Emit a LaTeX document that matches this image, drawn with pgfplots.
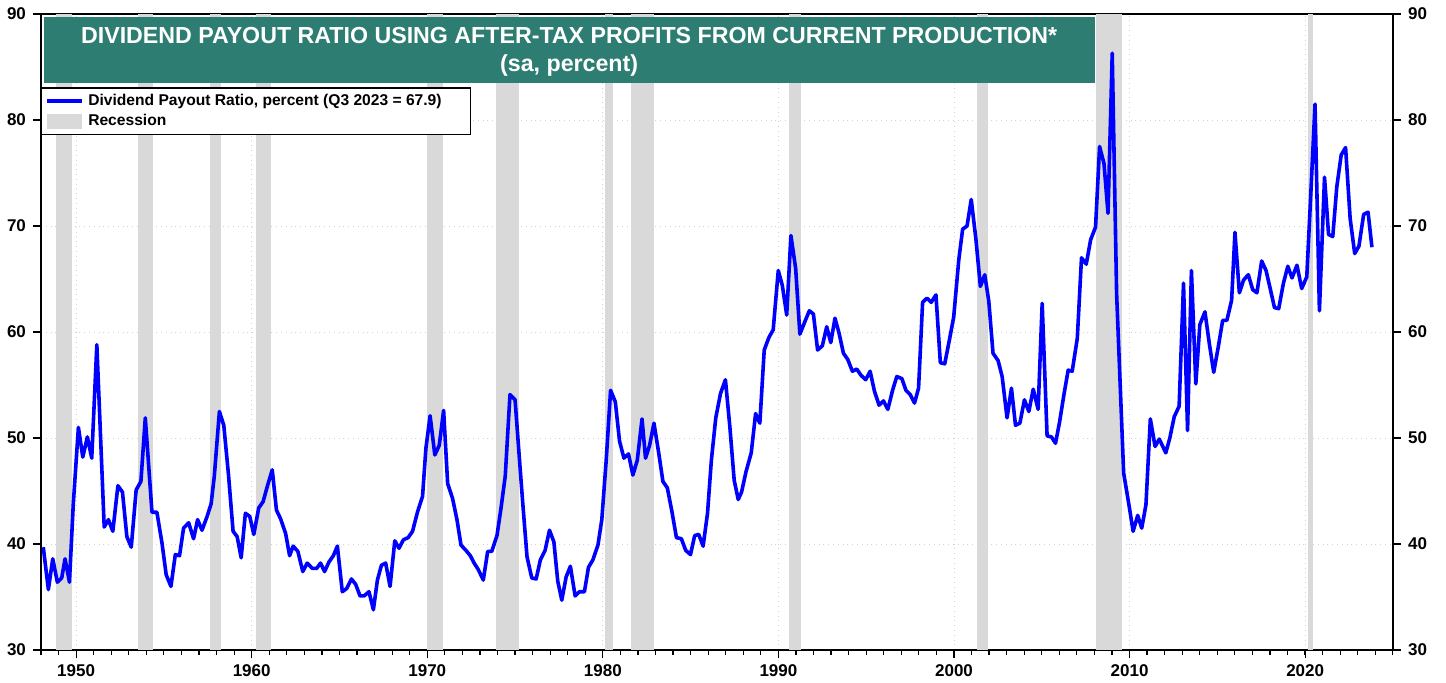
\documentclass[border=0pt]{standalone}
\usepackage{pgfplots}
\pgfplotsset{compat=1.18}
\usepackage{fontspec}
\setmainfont{Liberation Sans}
\definecolor{recgray}{RGB}{217,217,217}
\definecolor{titlegreen}{RGB}{46,125,114}
\definecolor{lineblue}{RGB}{0,0,255}

\pgfplotsset{
  common/.style={
    scale only axis, width=676pt, height=318pt,
    xmin=1948, xmax=2025, ymin=30, ymax=90,
    ytick={30,40,...,90},
    axis line style={line width=1.2pt},
    tick style={black, line width=0.6pt},
    tick align=outside,
    major tick length=4pt, minor tick length=2.5pt,
    ticklabel style={font=\bfseries\fontsize{8.5}{10}\selectfont},
    /pgf/number format/assume math mode=true,
    /pgf/number format/1000 sep={},
  }
}

\begin{document}
\begin{tikzpicture}
\begin{axis}[
  common,
  xtick={1950,1960,...,2020},
  minor xtick={1948,...,2025},
  ytick pos=left, xtick pos=bottom,
  grid=major, major grid style={gray!35, dotted, line width=0.5pt},
  legend style={at={(0,0.885)}, anchor=north west, draw=black, line width=0.7pt,
    font=\bfseries\fontsize{7.8}{10}\selectfont, inner xsep=2pt, inner ysep=1pt,
    row sep=-1pt, cells={anchor=west}},
  legend cell align=left,
  reverse legend,
]
% recessions
\addplot[fill=recgray, draw=none, area legend,
  legend image code/.code={\fill[recgray] (0pt,-3.7pt) rectangle (17.5pt,3.7pt);}]
  coordinates {(1948.86,30) (1948.86,90) (1949.75,90) (1949.75,30)} -- cycle;
\addlegendentry{Recession}
\addplot[fill=recgray, draw=none, forget plot] coordinates {(1953.55,30) (1953.55,90) (1954.37,90) (1954.37,30)} -- cycle;
\addplot[fill=recgray, draw=none, forget plot] coordinates {(1957.65,30) (1957.65,90) (1958.27,90) (1958.27,30)} -- cycle;
\addplot[fill=recgray, draw=none, forget plot] coordinates {(1960.27,30) (1960.27,90) (1961.11,90) (1961.11,30)} -- cycle;
\addplot[fill=recgray, draw=none, forget plot] coordinates {(1969.97,30) (1969.97,90) (1970.87,90) (1970.87,30)} -- cycle;
\addplot[fill=recgray, draw=none, forget plot] coordinates {(1973.91,30) (1973.91,90) (1975.21,90) (1975.21,30)} -- cycle;
\addplot[fill=recgray, draw=none, forget plot] coordinates {(1980.10,30) (1980.10,90) (1980.57,90) (1980.57,30)} -- cycle;
\addplot[fill=recgray, draw=none, forget plot] coordinates {(1981.62,30) (1981.62,90) (1982.91,90) (1982.91,30)} -- cycle;
\addplot[fill=recgray, draw=none, forget plot] coordinates {(1990.60,30) (1990.60,90) (1991.28,90) (1991.28,30)} -- cycle;
\addplot[fill=recgray, draw=none, forget plot] coordinates {(2001.31,30) (2001.31,90) (2001.94,90) (2001.94,30)} -- cycle;
\addplot[fill=recgray, draw=none, forget plot] coordinates {(2008.06,30) (2008.06,90) (2009.58,90) (2009.58,30)} -- cycle;
\addplot[fill=recgray, draw=none, forget plot] coordinates {(2020.18,30) (2020.18,90) (2020.43,90) (2020.43,30)} -- cycle;

% title box
\fill[titlegreen] (axis cs:1948.17,89.7) rectangle (axis cs:2008.0,83.5);
\node[white, font=\bfseries\fontsize{11.6}{13}\selectfont] at (axis cs:1978.08,88.0)
  {DIVIDEND PAYOUT RATIO USING AFTER-TAX PROFITS FROM CURRENT PRODUCTION*};
\node[white, font=\bfseries\fontsize{11.6}{13}\selectfont] at (axis cs:1978.08,85.1)
  {(sa, percent)};

\addplot[lineblue, line width=1.8pt, line join=round,
  legend image code/.code={\draw[lineblue, line width=1.8pt] (0pt,0pt) -- (17.5pt,0pt);}]
  table {
1948.13 39.7
1948.42 35.7
1948.67 38.6
1948.93 36.4
1949.18 36.8
1949.37 38.6
1949.62 36.4
1949.84 43.8
1950.13 51.0
1950.38 48.2
1950.64 50.1
1950.89 48.1
1951.18 58.8
1951.60 41.6
1951.84 42.3
1952.09 41.2
1952.38 45.5
1952.64 44.9
1952.89 40.7
1953.14 39.7
1953.42 45.1
1953.69 45.9
1953.94 51.9
1954.32 43.0
1954.60 43.0
1954.89 40.1
1955.13 37.1
1955.40 36.0
1955.65 39.0
1955.89 38.9
1956.12 41.5
1956.41 42.0
1956.69 40.5
1956.92 42.3
1957.17 41.3
1957.46 42.6
1957.69 43.8
1957.87 46.4
1958.16 52.5
1958.41 51.2
1958.68 46.5
1958.94 41.2
1959.17 40.7
1959.40 38.7
1959.64 42.9
1959.89 42.6
1960.12 40.9
1960.40 43.4
1960.65 44.0
1960.90 45.5
1961.17 47.0
1961.41 43.2
1961.64 42.4
1961.93 41.0
1962.16 38.9
1962.36 39.8
1962.63 39.3
1962.91 37.4
1963.16 38.2
1963.45 37.7
1963.70 37.7
1963.92 38.2
1964.15 37.4
1964.40 38.3
1964.65 38.9
1964.88 39.8
1965.16 35.5
1965.41 35.8
1965.68 36.7
1965.92 36.2
1966.17 35.1
1966.40 35.1
1966.68 35.5
1966.93 33.8
1967.16 36.6
1967.39 38.0
1967.63 38.2
1967.88 36.0
1968.15 40.3
1968.39 39.6
1968.64 40.4
1968.91 40.6
1969.16 41.2
1969.44 43.0
1969.73 44.5
1969.92 49.0
1970.16 52.1
1970.43 48.4
1970.68 49.3
1970.93 52.6
1971.16 45.7
1971.44 44.3
1971.69 42.3
1971.92 39.9
1972.20 39.4
1972.45 38.9
1972.67 38.2
1972.90 37.6
1973.19 36.6
1973.44 39.3
1973.67 39.3
1973.97 40.8
1974.20 43.4
1974.44 46.4
1974.71 54.1
1975.00 53.6
1975.24 48.2
1975.44 43.8
1975.68 38.8
1975.95 36.8
1976.20 36.7
1976.44 38.5
1976.71 39.4
1976.96 41.3
1977.21 40.2
1977.43 36.5
1977.66 34.7
1977.91 36.9
1978.15 37.9
1978.42 35.1
1978.67 35.5
1978.95 35.5
1979.18 37.8
1979.43 38.5
1979.72 39.9
1979.94 42.3
1980.19 47.9
1980.44 54.5
1980.71 53.4
1980.95 49.7
1981.20 48.1
1981.46 48.5
1981.71 46.5
1981.96 47.9
1982.23 51.8
1982.43 48.1
1982.66 49.3
1982.91 51.4
1983.18 48.6
1983.42 45.9
1983.67 45.3
1983.94 43.0
1984.19 40.6
1984.47 40.5
1984.72 39.4
1984.99 39.0
1985.23 40.8
1985.46 40.9
1985.71 39.8
1985.96 42.9
1986.18 47.9
1986.43 51.9
1986.70 54.2
1986.98 55.5
1987.23 51.1
1987.48 46.0
1987.71 44.2
1987.90 44.9
1988.15 46.8
1988.45 48.6
1988.70 52.3
1988.94 51.4
1989.19 58.3
1989.46 59.5
1989.70 60.2
1989.99 65.8
1990.22 64.4
1990.47 61.6
1990.71 69.1
1990.98 66.0
1991.22 59.8
1991.51 61.0
1991.76 62.0
1991.99 61.7
1992.23 58.3
1992.50 58.7
1992.75 60.5
1992.98 59.0
1993.22 61.3
1993.45 59.9
1993.70 58.0
1993.95 57.4
1994.21 56.3
1994.46 56.5
1994.71 55.9
1994.97 55.5
1995.22 56.3
1995.47 54.4
1995.73 53.1
1995.98 53.5
1996.23 52.7
1996.50 54.5
1996.74 55.8
1997.03 55.6
1997.26 54.5
1997.50 54.1
1997.75 53.3
1997.98 54.7
1998.21 62.8
1998.46 63.2
1998.70 62.8
1998.97 63.5
1999.22 57.1
1999.47 57.0
1999.73 59.2
1999.98 61.4
2000.27 66.8
2000.49 69.7
2000.74 70.0
2000.98 72.5
2001.25 68.7
2001.50 64.3
2001.75 65.4
2001.98 62.9
2002.22 58.0
2002.51 57.3
2002.74 55.8
2003.02 51.9
2003.27 54.7
2003.50 51.2
2003.75 51.4
2004.01 53.6
2004.26 52.5
2004.51 54.6
2004.79 52.7
2005.02 62.7
2005.30 50.2
2005.55 50.1
2005.78 49.5
2006.01 51.5
2006.26 54.1
2006.50 56.4
2006.73 56.3
2007.02 59.4
2007.26 67.0
2007.53 66.4
2007.78 68.7
2008.06 69.9
2008.29 77.5
2008.54 75.9
2008.77 71.2
2009.01 86.3
2009.26 63.6
2009.66 46.7
2009.98 43.5
2010.20 41.2
2010.46 42.7
2010.69 41.5
2010.93 43.7
2011.18 51.8
2011.45 49.2
2011.69 49.9
2012.06 48.6
2012.29 50.0
2012.54 52.0
2012.82 53.0
2013.07 64.6
2013.30 50.7
2013.52 65.8
2013.77 55.1
2014.00 60.7
2014.29 61.9
2014.54 58.9
2014.79 56.2
2015.05 58.6
2015.30 61.1
2015.54 61.1
2015.81 63.0
2016.00 69.4
2016.25 63.7
2016.49 64.9
2016.76 65.4
2017.01 64.0
2017.25 63.7
2017.52 66.7
2017.77 65.8
2018.02 64.0
2018.25 62.3
2018.49 62.2
2018.76 64.6
2019.01 66.2
2019.25 65.1
2019.53 66.3
2019.80 64.1
2020.09 65.2
2020.33 73.4
2020.56 81.5
2020.81 62.0
2021.10 74.6
2021.33 69.2
2021.57 69.0
2021.80 73.7
2022.05 76.7
2022.30 77.4
2022.56 70.7
2022.82 67.4
2023.06 68.1
2023.33 71.1
2023.58 71.3
2023.80 68.0
};
\addlegendentry{Dividend Payout Ratio, percent (Q3 2023 = 67.9)\rule{10.5pt}{0pt}}
\end{axis}

\begin{axis}[
  common,
  axis x line=none,
  axis y line*=right,
]
\end{axis}

\pgfresetboundingbox
\useasboundingbox (-20.5pt,-16pt) rectangle (702.5pt,325pt);
\end{tikzpicture}
\end{document}
